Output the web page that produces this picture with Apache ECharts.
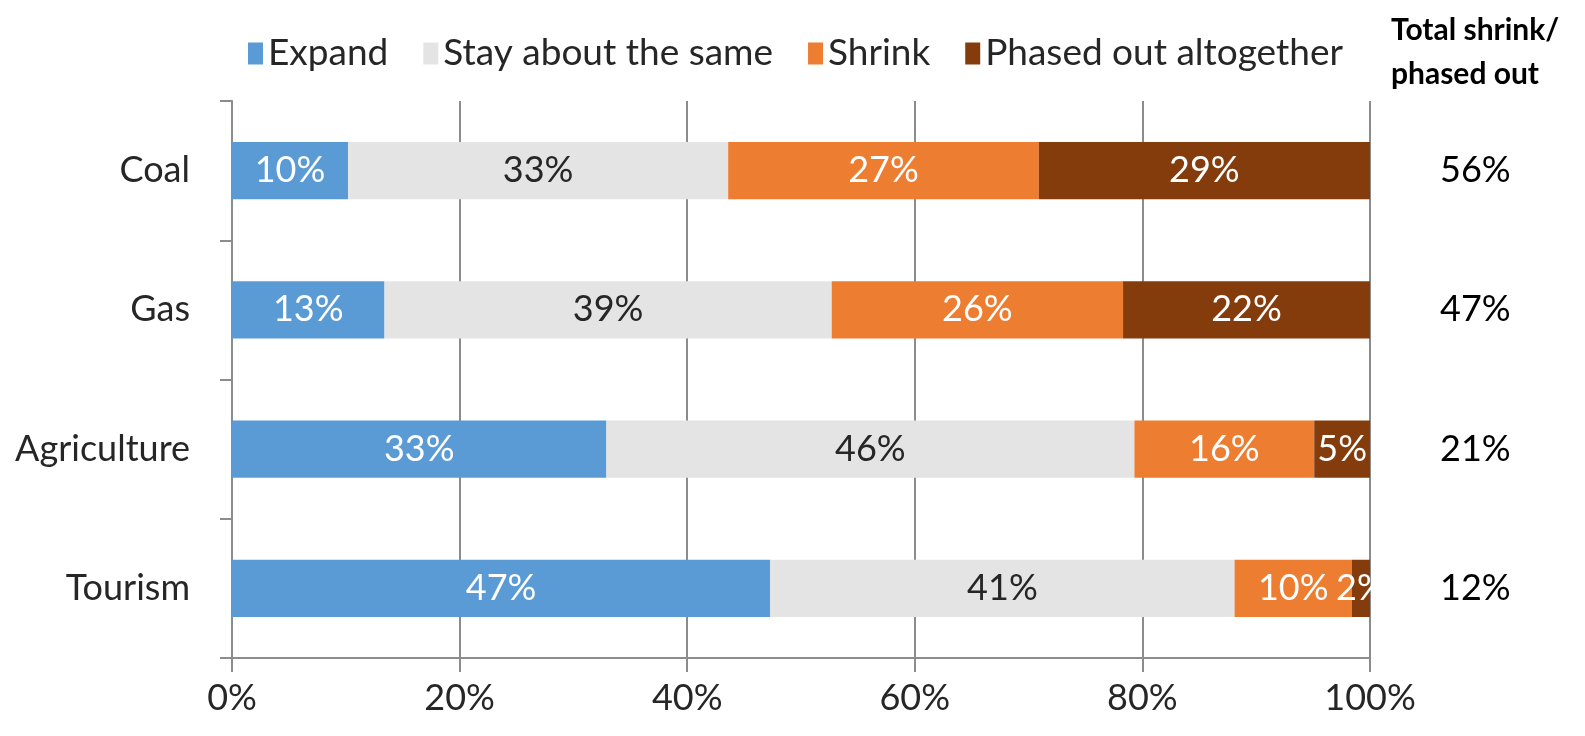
<!DOCTYPE html>
<html>
<head>
<meta charset="utf-8">
<title>Expected change by sector</title>
<script src="https://cdn.jsdelivr.net/npm/echarts@6/dist/echarts.min.js"></script>
<style>
  html, body { margin: 0; padding: 0; background: #ffffff; }
  #chart { width: 1585px; height: 736px; }
</style>
</head>
<body>
<div id="chart"></div>
<script>
// Sectors, top to bottom
const categories = ['Coal', 'Gas', 'Agriculture', 'Tourism'];

// Share of respondents per answer (percent of each sector)
const expand      = [10.2, 13.4, 32.9, 47.3];
const staySame    = [33.4, 39.3, 46.4, 40.8];
const shrink      = [27.3, 25.6, 15.8, 10.3];
const phasedOut   = [29.1, 21.7, 4.9, 1.6];

// Combined shrink + phased out, shown to the right of each bar
const totalShrinkPhased = ['56%', '47%', '21%', '12%'];

// Value axis ticks
const xTicks = [0, 20, 40, 60, 80, 100];

const FONT = 'Lato, "Open Sans", sans-serif';
const GRID_GREY = '#8c8c8c';

function makeSeries(name, values, color, labelColor) {
  return {
    name: name,
    type: 'bar',
    stack: 'total',
    data: values,
    barWidth: '41%',
    itemStyle: { color: color },
    label: {
      show: true,
      position: 'inside',
      color: labelColor,
      fontFamily: FONT,
      fontSize: 36,
      formatter: p => Math.round(p.value) + '%'
    },
    emphasis: { disabled: true }
  };
}

const chart = echarts.init(document.getElementById('chart'), null, { renderer: 'canvas' });

chart.setOption({
  backgroundColor: '#ffffff',
  animation: false,
  textStyle: { fontFamily: FONT },
  legend: {
    data: ['Expand', 'Stay about the same', 'Shrink', 'Phased out altogether'],
    left: 243,
    top: 30,
    itemWidth: 15,
    itemHeight: 22,
    itemGap: 35,
    icon: 'rect',
    textStyle: { fontFamily: FONT, fontSize: 37, color: '#262626' }
  },
  grid: {
    left: 232,
    right: 215,
    top: 101,
    bottom: 78,
    containLabel: false
  },
  xAxis: {
    type: 'value',
    min: xTicks[0],
    max: xTicks[xTicks.length - 1],
    interval: xTicks[1] - xTicks[0],
    axisLine: { show: true, lineStyle: { color: GRID_GREY, width: 2 } },
    axisTick: { show: true, length: 14, lineStyle: { color: GRID_GREY, width: 2 } },
    splitLine: { show: true, lineStyle: { color: GRID_GREY, width: 2 } },
    axisLabel: {
      margin: 22,
      fontFamily: FONT,
      fontSize: 36,
      color: '#262626',
      formatter: v => v + '%'
    }
  },
  yAxis: [
    {
      type: 'category',
      data: categories,
      inverse: true,
      axisLine: { show: true, lineStyle: { color: GRID_GREY, width: 2 } },
      axisTick: { show: true, length: 12, lineStyle: { color: GRID_GREY, width: 2 } },
      axisLabel: {
        margin: 42,
        fontFamily: FONT,
        fontSize: 36,
        color: '#262626'
      }
    },
    {
      type: 'category',
      data: totalShrinkPhased,
      inverse: true,
      position: 'right',
      axisLine: { show: false },
      axisTick: { show: false },
      axisLabel: {
        margin: 70,
        fontFamily: FONT,
        fontSize: 36,
        color: '#000000'
      }
    }
  ],
  series: [
    makeSeries('Expand', expand, '#5b9bd5', '#ffffff'),
    makeSeries('Stay about the same', staySame, '#e4e4e4', '#262626'),
    makeSeries('Shrink', shrink, '#ed7d31', '#ffffff'),
    makeSeries('Phased out altogether', phasedOut, '#843c0c', '#ffffff')
  ],
  graphic: [
    {
      type: 'text',
      left: 1391,
      top: 8,
      style: {
        text: 'Total shrink/\nphased out',
        fontFamily: FONT,
        fontWeight: 'bold',
        fontSize: 30,
        lineHeight: 44,
        fill: '#000000',
        align: 'center'
      }
    }
  ]
});
</script>
</body>
</html>
